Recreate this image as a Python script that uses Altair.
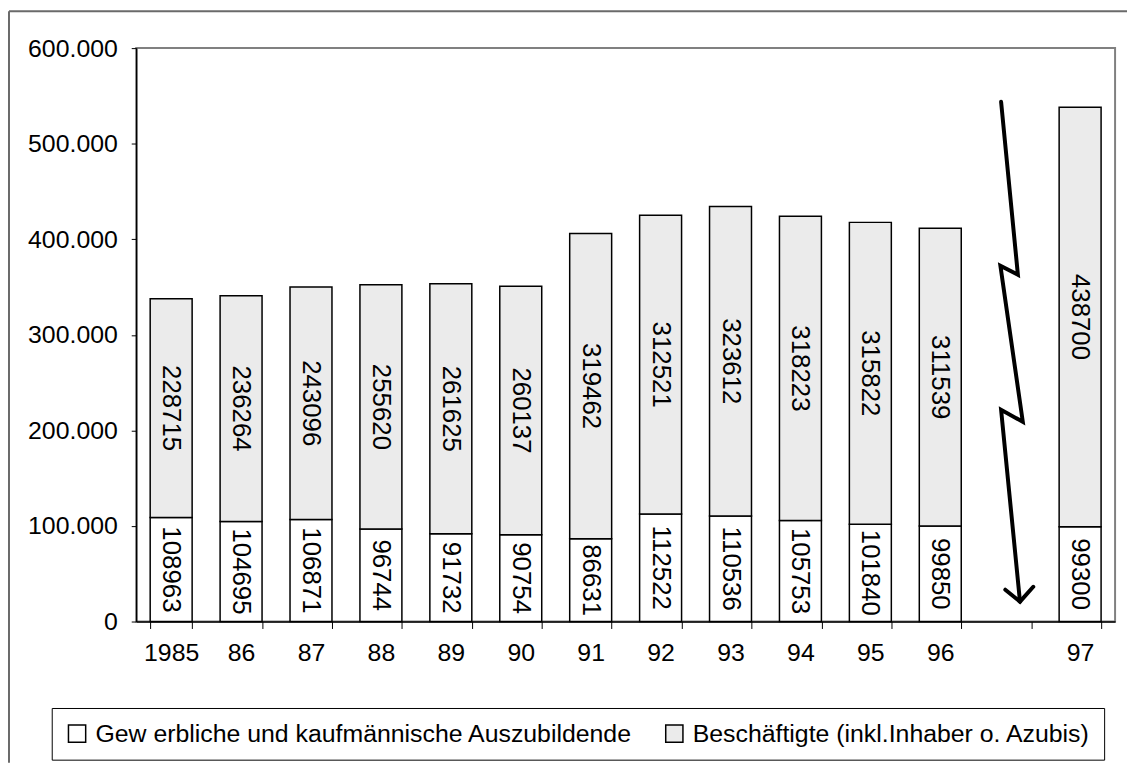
import altair as alt
import pandas as pd

# ---- data ----
years = ["1985", "86", "87", "88", "89", "90", "91", "92", "93", "94", "95", "96", " ", "97"]
azubi = [108963, 104695, 106871, 96744, 91732, 90754, 86631, 112522, 110536, 105753, 101840, 99850, None, 99300]
besch = [228715, 236264, 243096, 255620, 261625, 260137, 319462, 312521, 323612, 318223, 315822, 311539, None, 438700]
series = ["Gew erbliche und kaufmännische Auszubildende", "Beschäftigte (inkl.Inhaber o. Azubis)"]
colors = ["#ffffff", "#ebebeb"]
y_ticks = [0, 100000, 200000, 300000, 400000, 500000, 600000]

# lightning-bolt annotation (x in category units, y in data units)
bolt_x = [12.37, 12.61, 12.36, 12.68, 12.37, 12.64, 12.43, 12.64, 12.83]
bolt_y = [543800, 362900, 372300, 209000, 221500, 20800, 33300, 20800, 36400]
bolt_part = [0, 0, 0, 0, 0, 0, 1, 1, 1]

rows = []
for y, a, b in zip(years, azubi, besch):
    if a is None:
        continue
    rows.append({"year": y, "serie": series[0], "ord": 0, "value": a})
    rows.append({"year": y, "serie": series[1], "ord": 1, "value": b})
df = pd.DataFrame(rows)

bolt_df = pd.DataFrame({"bx": bolt_x, "by": bolt_y, "part": bolt_part,
                        "i": list(range(len(bolt_x)))})

FONT = "Liberation Sans"
xscale = alt.Scale(domain=years, paddingInner=0.4, paddingOuter=0.2)
yscale = alt.Scale(domain=[0, 600000])
yaxis = alt.Axis(title=None, values=y_ticks, grid=False, tickSize=5,
                 tickColor="black", domainColor="black", domainWidth=1.5,
                 labelFontSize=25, labelFont=FONT, labelColor="black",
                 labelPadding=14,
                 labelExpr="replace(format(datum.value, ','), regexp(',', 'g'), '.')")

base = alt.Chart(df).transform_stack(
    stack="value", groupby=["year"], sort=[alt.SortField("ord", order="ascending")],
    as_=["y0", "y1"]
)

bars = base.mark_bar(stroke="black", strokeWidth=1.5).encode(
    x=alt.X("year:N", scale=xscale, sort=years,
            axis=alt.Axis(title=None, labelAngle=0, labelFontSize=25, labelFont=FONT,
                          labelColor="black", tickBand="extent", tickSize=7,
                          tickColor="black", domainColor="black", domainWidth=1.5,
                          labelPadding=12, grid=False)),
    y=alt.Y("y0:Q", scale=yscale, axis=yaxis),
    y2="y1:Q",
    color=alt.Color("serie:N", scale=alt.Scale(domain=series, range=colors),
                    legend=alt.Legend(title=None, orient="none", legendX=-85, legendY=664,
                                      direction="horizontal", symbolType="square",
                                      symbolSize=300, symbolStrokeColor="black",
                                      symbolStrokeWidth=1.5, labelFontSize=25,
                                      labelFont=FONT, labelColor="black", labelOffset=6,
                                      columnPadding=29, padding=13, strokeColor="black",
                                      fillColor="white", labelLimit=1000)),
    order=alt.Order("ord:Q"),
)

labels = base.transform_calculate(mid="(datum.y0 + datum.y1) / 2").mark_text(
    angle=90, fontSize=26, font=FONT, color="black", align="center", baseline="middle"
).encode(
    x=alt.X("year:N", scale=xscale, sort=years, axis=None),
    y=alt.Y("mid:Q", scale=yscale, axis=yaxis),
    text=alt.Text("value:Q", format="d"),
)

bolt = alt.Chart(bolt_df).mark_line(color="black", strokeWidth=4, strokeJoin="miter",
                                    strokeCap="round").encode(
    x=alt.X("bx:Q", scale=alt.Scale(domain=[0, 14]), axis=None),
    y=alt.Y("by:Q", scale=yscale, axis=yaxis),
    detail="part:N",
    order="i:Q",
)

one = alt.Data(values=[{"a": 1}])
frame_top = alt.Chart(one).mark_rule(color="#6a6a6a", strokeWidth=2).encode(
    x=alt.value(-128), x2=alt.value(997), y=alt.value(-37)
)
frame_left = alt.Chart(one).mark_rule(color="#6a6a6a", strokeWidth=2).encode(
    x=alt.value(-128), y=alt.value(-37), y2=alt.value(719)
)

chart = alt.layer(frame_top, frame_left, bars, labels, bolt).resolve_scale(
    x="independent"
).properties(
    width=985, height=577,
    padding={"left": 129, "top": 38, "right": 12, "bottom": 142},
    autosize=alt.AutoSizeParams(type="none"),
).configure(font=FONT).configure_view(stroke="#808080", strokeWidth=2)

chart.save("out.html", embed_options={"renderer": "svg", "actions": False})
